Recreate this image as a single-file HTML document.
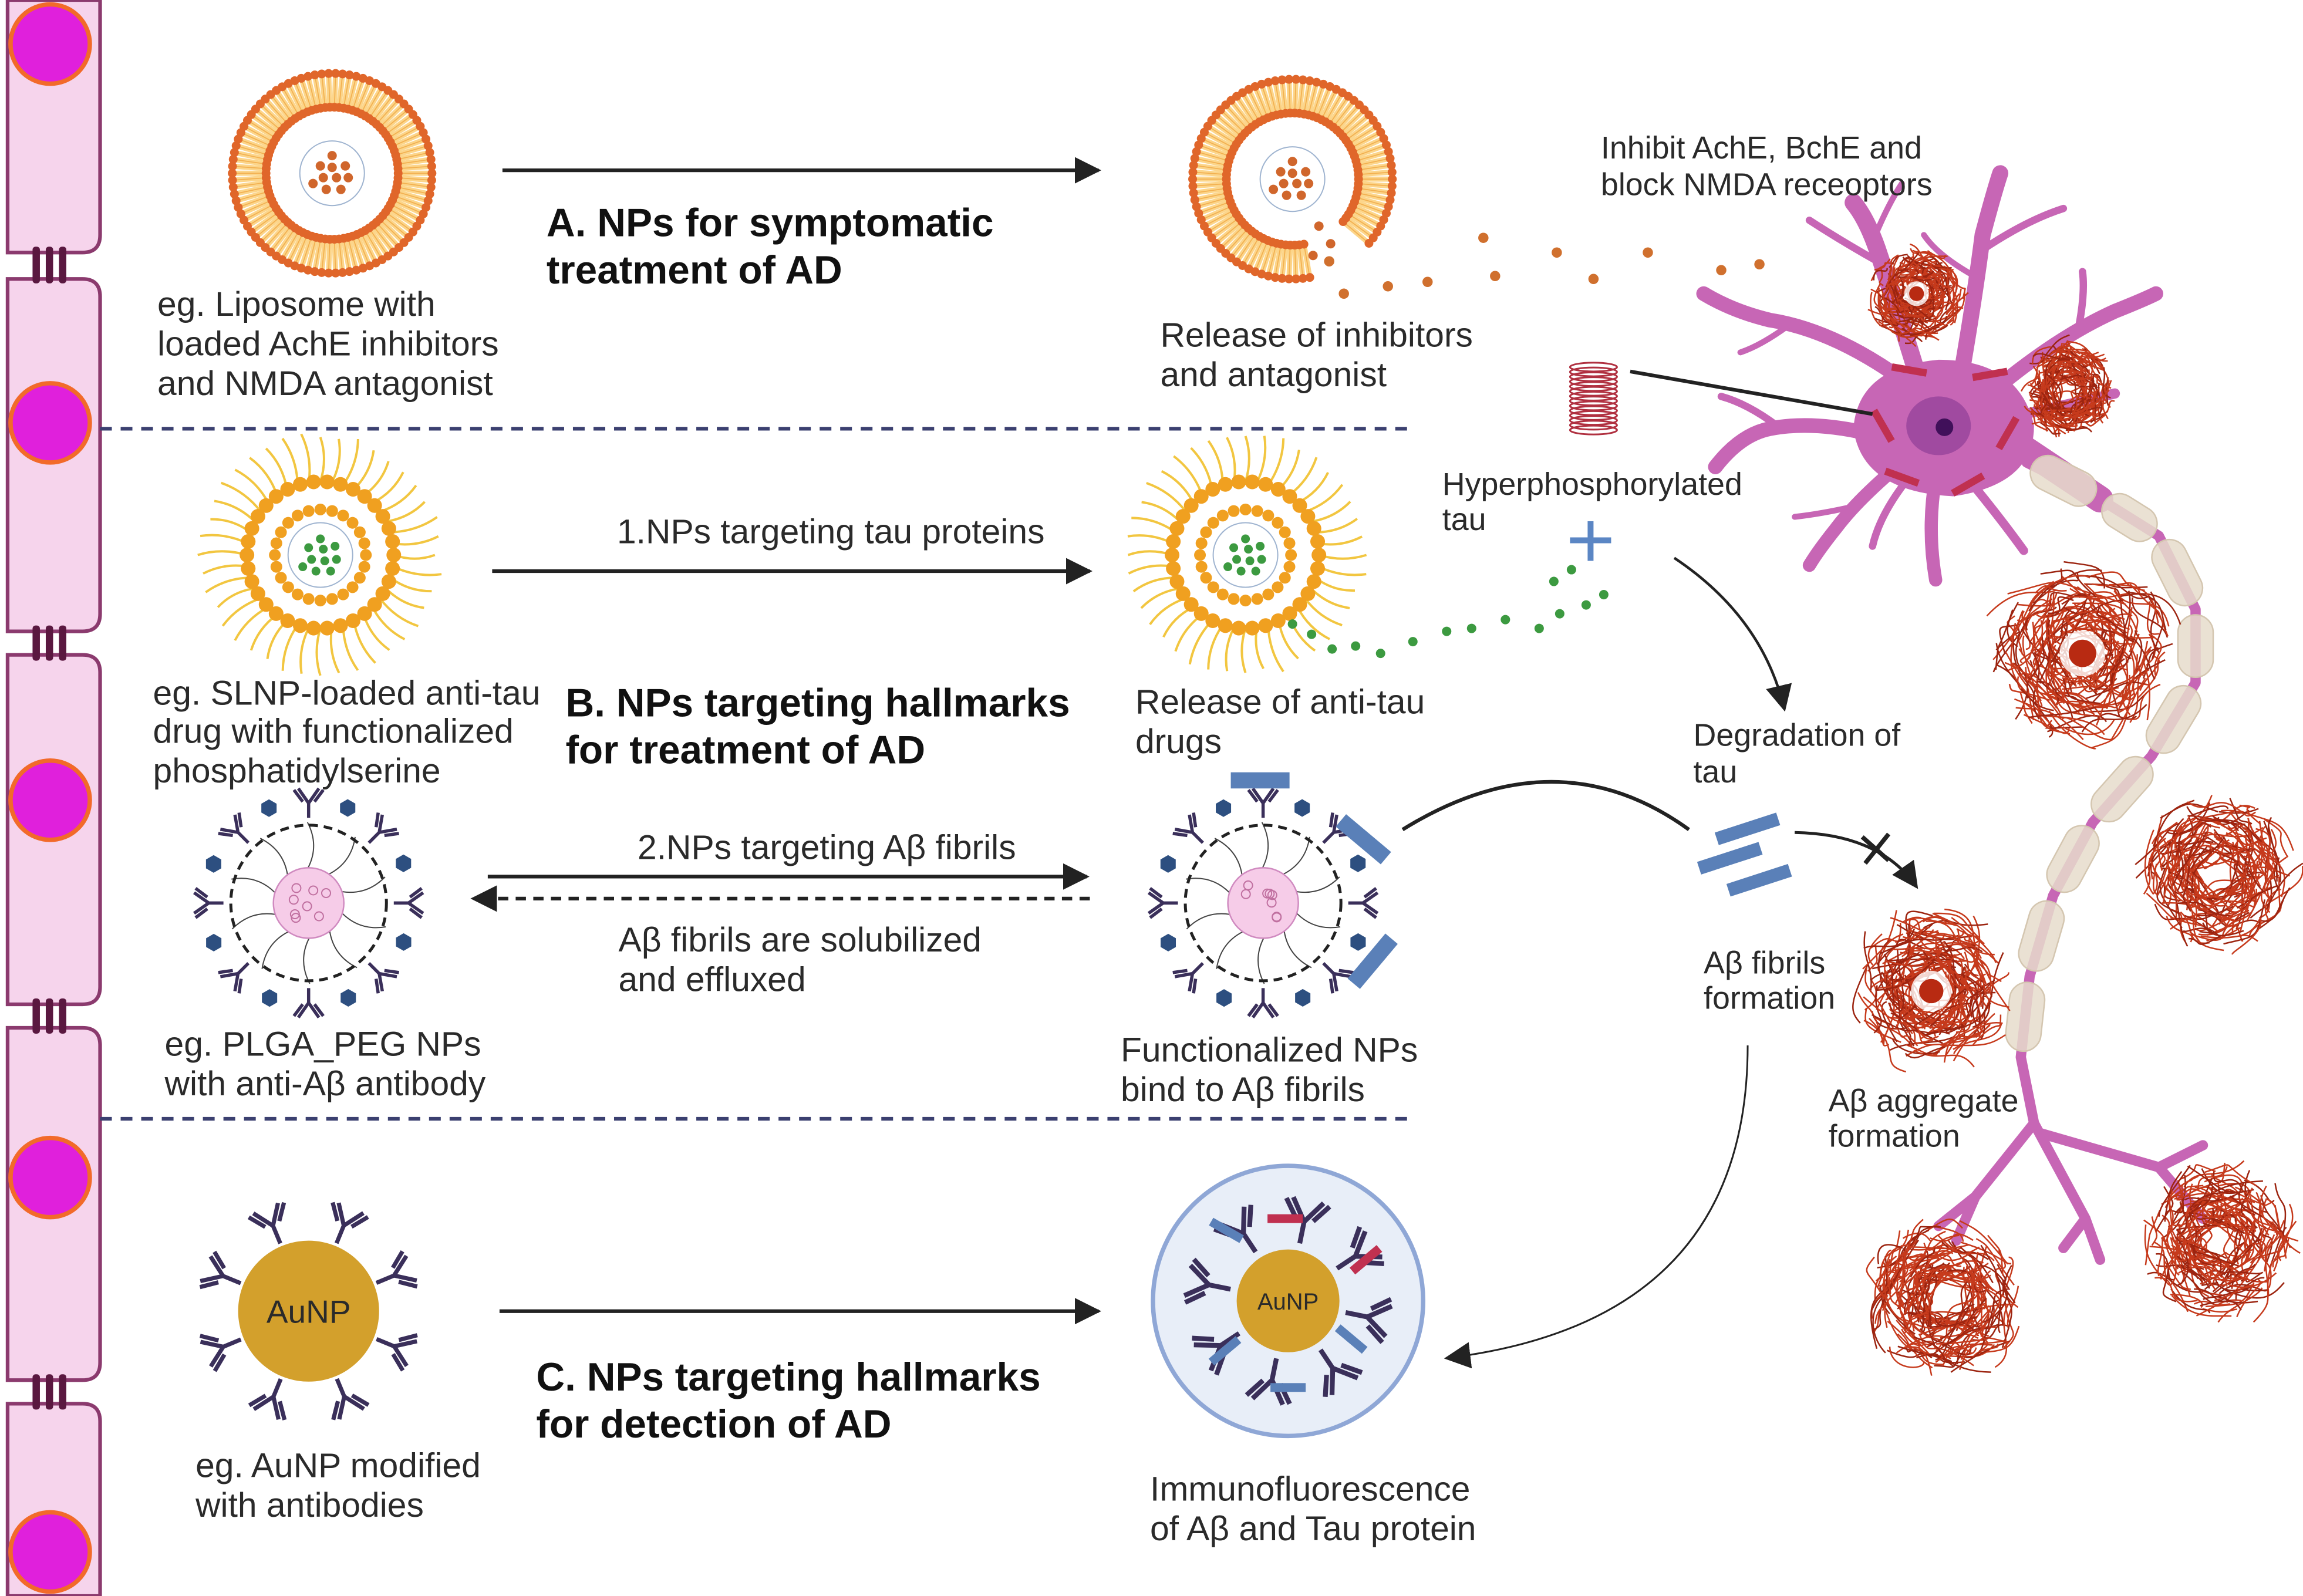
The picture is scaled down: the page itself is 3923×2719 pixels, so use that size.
<!DOCTYPE html>
<html><head><meta charset="utf-8"><style>
html,body{margin:0;padding:0;background:#fff;}
svg{display:block;}
text{font-family:"Liberation Sans",sans-serif;fill:#2a2a2a;}
.t{font-size:23.5px;}
.s{font-size:21.5px;}
.b{font-size:27px;font-weight:bold;fill:#111;}
</style></head><body>
<svg id="s" xmlns="http://www.w3.org/2000/svg" width="3923" height="2719" viewBox="0 0 1568 1087">
<defs>
<marker id="ah2" viewBox="0 0 10 10" refX="9" refY="5" markerWidth="18" markerHeight="18" orient="auto" markerUnits="userSpaceOnUse"><path d="M0,0L10,5L0,10z" fill="#222"/></marker>
</defs>
<rect width="1568" height="1087" fill="#fff"/>
<g stroke="#8b3a6e" stroke-width="2.5" fill="#f6d4ec">
<path d="M5,0 H68 V160 Q68,172 56,172 H5 Z"/>
<path d="M5,190 H56 Q68,190 68,202 V418 Q68,430 56,430 H5 Z"/>
<path d="M5,446 H56 Q68,446 68,458 V672 Q68,684 56,684 H5 Z"/>
<path d="M5,700 H56 Q68,700 68,712 V928 Q68,940 56,940 H5 Z"/>
<path d="M5,956 H56 Q68,956 68,968 V1087 H5 Z"/>
</g>
<g fill="#5a1840">
<rect x="22" y="168" width="5" height="25" rx="2"/><rect x="31" y="168" width="5" height="25" rx="2"/><rect x="40" y="168" width="5" height="25" rx="2"/>
<rect x="22" y="426" width="5" height="24" rx="2"/><rect x="31" y="426" width="5" height="24" rx="2"/><rect x="40" y="426" width="5" height="24" rx="2"/>
<rect x="22" y="680" width="5" height="24" rx="2"/><rect x="31" y="680" width="5" height="24" rx="2"/><rect x="40" y="680" width="5" height="24" rx="2"/>
<rect x="22" y="936" width="5" height="24" rx="2"/><rect x="31" y="936" width="5" height="24" rx="2"/><rect x="40" y="936" width="5" height="24" rx="2"/>
</g>
<g fill="#e020dc" stroke="#f26a2a" stroke-width="3">
<circle cx="34" cy="30" r="27"/><circle cx="34" cy="288" r="27"/><circle cx="34" cy="545" r="27"/><circle cx="34" cy="802" r="27"/><circle cx="34" cy="1057" r="27"/>
</g>
<g stroke="#3b4070" stroke-width="2.5" stroke-dasharray="8,6">
<line x1="68" y1="292" x2="958" y2="292"/><line x1="68" y1="762" x2="958" y2="762"/>
</g>
<g id="gen"></g>
<g stroke="#222" stroke-width="2.5" fill="none">
<line x1="342" y1="116" x2="748" y2="116" marker-end="url(#ah2)"/>
<line x1="335" y1="389" x2="742" y2="389" marker-end="url(#ah2)"/>
<line x1="332" y1="597" x2="740" y2="597" marker-end="url(#ah2)"/>
<line x1="742" y1="612" x2="322" y2="612" stroke-dasharray="7,5" marker-end="url(#ah2)"/>
<line x1="340" y1="893" x2="748" y2="893" marker-end="url(#ah2)"/>
<path d="M1140,380 Q1200,420 1215,483" stroke-width="1.8" marker-end="url(#ah2)"/>
<path d="M955,565 Q1060,500 1150,565" stroke-width="2.5"/>
<path d="M1222,567 Q1280,568 1305,604" stroke-width="2" marker-end="url(#ah2)"/>
<path d="M1268,570 L1286,586 M1286,568 L1270,588" stroke-width="3"/>
<path d="M1190,712 Q1190,900 985,925" stroke-width="1.2" marker-end="url(#ah2)"/>
</g>
<path d="M1083,355 V382 M1069,368 H1097" stroke="#5b86c4" stroke-width="4"/>
<text class="b" x="372" y="161">A. NPs for symptomatic</text>
<text class="b" x="372" y="193">treatment of AD</text>
<text class="t" x="107" y="215">eg. Liposome with</text>
<text class="t" x="107" y="242">loaded AchE inhibitors</text>
<text class="t" x="107" y="269">and NMDA antagonist</text>
<text class="t" x="790" y="236">Release of inhibitors</text>
<text class="t" x="790" y="263">and antagonist</text>
<text class="s" x="1090" y="108">Inhibit AchE, BchE and</text>
<text class="s" x="1090" y="133">block NMDA receoptors</text>
<text class="s" x="982" y="337">Hyperphosphorylated</text>
<text class="s" x="982" y="361">tau</text>
<text class="t" x="420" y="370">1.NPs targeting tau proteins</text>
<text class="t" x="104" y="480">eg. SLNP-loaded anti-tau</text>
<text class="t" x="104" y="506">drug with functionalized</text>
<text class="t" x="104" y="533">phosphatidylserine</text>
<text class="b" x="385" y="488">B. NPs targeting hallmarks</text>
<text class="b" x="385" y="520">for treatment of AD</text>
<text class="t" x="773" y="486">Release of anti-tau</text>
<text class="t" x="773" y="513">drugs</text>
<text class="s" x="1153" y="508">Degradation of</text>
<text class="s" x="1153" y="533">tau</text>
<text class="t" x="434" y="585">2.NPs targeting Aβ fibrils</text>
<text class="t" x="421" y="648">Aβ fibrils are solubilized</text>
<text class="t" x="421" y="675">and effluxed</text>
<text class="t" x="112" y="719">eg. PLGA_PEG NPs</text>
<text class="t" x="112" y="746">with anti-Aβ antibody</text>
<text class="t" x="763" y="723">Functionalized NPs</text>
<text class="t" x="763" y="750">bind to Aβ fibrils</text>
<text class="s" x="1160" y="663">Aβ fibrils</text>
<text class="s" x="1160" y="687">formation</text>
<text class="s" x="1245" y="757">Aβ aggregate</text>
<text class="s" x="1245" y="781">formation</text>
<text class="b" x="365" y="947">C. NPs targeting hallmarks</text>
<text class="b" x="365" y="979">for detection of AD</text>
<text class="t" x="133" y="1006">eg. AuNP modified</text>
<text class="t" x="133" y="1033">with antibodies</text>
<text class="t" x="783" y="1022">Immunofluorescence</text>
<text class="t" x="783" y="1049">of Aβ and Tau protein</text>
</svg>
<script>
var NS="http://www.w3.org/2000/svg",G=document.getElementById("gen");
function el(t,a,p){var e=document.createElementNS(NS,t);for(var k in a)e.setAttribute(k,a[k]);(p||G).appendChild(e);return e;}
var seed=7;function rnd(){seed=(seed*16807)%2147483647;return seed/2147483647;}
function liposome(cx,cy,gap){
 var g=el("g",{});
 for(var i=0;i<90;i++){var a=i/90*Math.PI*2;if(gap&&a>0.75&&a<1.35)continue;
  el("line",{x1:cx+46*Math.cos(a),y1:cy+46*Math.sin(a),x2:cx+68*Math.cos(a),y2:cy+68*Math.sin(a),stroke:"#fcd58a","stroke-width":3.5},g);}
 for(var i=0;i<90;i++){var a=i/90*Math.PI*2;if(gap&&a>0.75&&a<1.35)continue;
  el("line",{x1:cx+48*Math.cos(a),y1:cy+48*Math.sin(a),x2:cx+66*Math.cos(a),y2:cy+66*Math.sin(a),stroke:"#f2b050","stroke-width":0.7},g);
  el("circle",{cx:cx+68*Math.cos(a),cy:cy+68*Math.sin(a),r:3,fill:"#e0662a"},g);
  el("circle",{cx:cx+45*Math.cos(a),cy:cy+45*Math.sin(a),r:3,fill:"#e0662a"},g);}
 el("circle",{cx:cx,cy:cy,r:22,fill:"#fff",stroke:"#9fb4d0","stroke-width":0.8},g);
 [[0,-12],[-8,-5],[0,-4],[9,-5],[-6,3],[3,3],[11,3],[-13,7],[-4,11],[6,11]].forEach(function(p){el("circle",{cx:cx+p[0],cy:cy+p[1],r:3.2,fill:"#d0662c"},g);});
 if(gap)[[cx+18,cy+32],[cx+26,cy+44],[cx+14,cy+52]].forEach(function(p){el("circle",{cx:p[0],cy:p[1],r:3.2,fill:"#d0662c"},g);});
}
liposome(226,118,false);liposome(880,122,true);
[[905,178],[915,200],[945,195],[972,192],[1010,162],[1018,188],[1060,172],[1085,190],[1122,172],[1172,184],[1198,180]].forEach(function(p){el("circle",{cx:p[0],cy:p[1],r:3.5,fill:"#d0702e"});});
function slnp(cx,cy){
 var g=el("g",{});
 for(var i=0;i<40;i++){var a=i/40*Math.PI*2,r1=50,r2=78+rnd()*6;
  var x1=cx+r1*Math.cos(a),y1=cy+r1*Math.sin(a),x2=cx+r2*Math.cos(a),y2=cy+r2*Math.sin(a);
  var mx=(x1+x2)/2+5*Math.cos(a+1.5),my=(y1+y2)/2+5*Math.sin(a+1.5);
  el("path",{d:"M"+x1+","+y1+" Q"+mx+","+my+" "+x2+","+y2,stroke:"#f2c640",fill:"none","stroke-width":1.6},g);}
 for(var i=0;i<34;i++){var a=i/34*Math.PI*2;el("circle",{cx:cx+50*Math.cos(a),cy:cy+50*Math.sin(a),r:5,fill:"#f0a020"},g);}
 for(var i=0;i<24;i++){var a=i/24*Math.PI*2;el("circle",{cx:cx+31*Math.cos(a),cy:cy+31*Math.sin(a),r:4,fill:"#f0a020"},g);}
 el("circle",{cx:cx,cy:cy,r:22,fill:"#fff",stroke:"#9fb4d0","stroke-width":0.8},g);
 [[0,-11],[-8,-5],[2,-4],[10,-6],[-6,3],[3,4],[11,3],[-12,8],[-3,11],[7,11]].forEach(function(p){el("circle",{cx:cx+p[0],cy:cy+p[1],r:3,fill:"#3c9a40"},g);});
}
slnp(218,378);slnp(848,378);
[[880,425],[893,432],[907,442],[923,440],[940,445],[962,437],[985,430],[1002,428],[1025,422],[1048,428],[1062,418],[1080,412],[1092,405],[1058,396],[1070,388]].forEach(function(p){el("circle",{cx:p[0],cy:p[1],r:3.2,fill:"#3c9a40"});});
function antibody(x,y,a,g,s){s=s||1;var gg=el("g",{transform:"translate("+x+","+y+") rotate("+a+") scale("+s+")"},g);
 el("path",{d:"M0,0 V10 M0,10 L-7,20 M0,10 L7,20 M-4,11 L-10,19 M4,11 L10,19",stroke:"#3a2f5a","stroke-width":2.2,fill:"none"},gg);}
function hex(x,y,r){var p=[];for(var i=0;i<6;i++){var a=i*Math.PI/3+Math.PI/6;p.push((x+r*Math.cos(a)).toFixed(1)+","+(y+r*Math.sin(a)).toFixed(1));}return p.join(" ");}
function plga(cx,cy,fib){
 var g=el("g",{});
 for(var i=0;i<10;i++){var a=i/10*Math.PI*2+0.3;
  el("path",{d:"M"+(cx+24*Math.cos(a))+","+(cy+24*Math.sin(a))+" Q"+(cx+40*Math.cos(a+0.2))+","+(cy+40*Math.sin(a+0.2))+" "+(cx+55*Math.cos(a))+","+(cy+55*Math.sin(a)),stroke:"#444",fill:"none","stroke-width":0.8},g);}
 el("circle",{cx:cx,cy:cy,r:53,fill:"none",stroke:"#222","stroke-width":2,"stroke-dasharray":"6,4"},g);
 el("circle",{cx:cx,cy:cy,r:24,fill:"#f6cce8",stroke:"#d08ac0"},g);
 for(var i=0;i<8;i++)el("circle",{cx:cx-12+rnd()*24,cy:cy-12+rnd()*24,r:3,fill:"none",stroke:"#c070a0","stroke-width":0.8},g);
 for(var i=0;i<8;i++){var a=i/8*Math.PI*2;antibody(cx+58*Math.cos(a),cy+58*Math.sin(a),a*180/Math.PI-90,g);
  var b=a+0.39;el("polygon",{points:hex(cx+70*Math.cos(b),cy+70*Math.sin(b),6),fill:"#2d4f80"},g);}
 if(fib){[[858,532,0],[928,572,40],[935,655,-50]].forEach(function(f){el("rect",{x:f[0]-20,y:f[1]-6,width:40,height:11,fill:"#5a80b8",transform:"rotate("+f[2]+" "+f[0]+" "+f[1]+")"},g);});}
}
plga(210,615,false);plga(860,615,true);
[[1190,565],[1178,585],[1198,600]].forEach(function(f){el("rect",{x:f[0]-22,y:f[1]-5,width:44,height:9,fill:"#5a80b8",transform:"rotate(-18 "+f[0]+" "+f[1]+")"});});
el("circle",{cx:210,cy:893,r:48,fill:"#d3a02c"});
for(var i=0;i<8;i++){var a=i/8*Math.PI*2+0.39;antibody(210+50*Math.cos(a),893+50*Math.sin(a),a*180/Math.PI-90,G,1.3);}
var t=el("text",{x:210,y:901,"text-anchor":"middle",style:"font-size:22px"});t.textContent="AuNP";
el("circle",{cx:877,cy:886,r:92,fill:"#e8eef8",stroke:"#8fa7d6","stroke-width":3});
el("circle",{cx:877,cy:886,r:35,fill:"#d3a02c"});
for(var i=0;i<8;i++){var a=i/8*Math.PI*2+0.2;antibody(877+40*Math.cos(a),886+40*Math.sin(a),a*180/Math.PI-90,G,1.5);}
[[875,830,0,"#c03050"],[930,858,-40,"#c03050"],[835,838,30,"#5a80b8"],[920,912,40,"#5a80b8"],[834,920,-40,"#5a80b8"],[877,945,0,"#5a80b8"]].forEach(function(f){el("rect",{x:f[0]-12,y:f[1]-3,width:24,height:6,fill:f[3],transform:"rotate("+f[2]+" "+f[0]+" "+f[1]+")"});});
t=el("text",{x:877,y:892,"text-anchor":"middle",style:"font-size:16px"});t.textContent="AuNP";
for(var i=0;i<14;i++)el("ellipse",{cx:1085,cy:250+i*3.3,rx:16,ry:3,fill:"none",stroke:"#b03040","stroke-width":1.2});
// neuron
var C="#c766b5";
var N=el("g",{fill:"none",stroke:C,"stroke-linecap":"round","stroke-linejoin":"round"});
var dend=[
["M1310,270 Q1295,220 1280,175 Q1272,150 1262,138",12],["M1282,180 Q1255,165 1232,150",5],["M1275,165 Q1285,140 1295,125",4],
["M1300,262 Q1250,225 1205,218 Q1180,212 1160,200",10],["M1220,220 Q1200,235 1185,240",4],
["M1335,258 Q1345,200 1350,160 Q1358,130 1362,118",11],["M1350,170 Q1380,150 1405,142",5],["M1348,190 Q1320,175 1310,160",4],
["M1355,268 Q1400,230 1440,212 Q1460,204 1468,200",10],["M1415,225 Q1420,200 1418,185",5],
["M1365,285 Q1410,275 1440,268",7],
["M1290,300 Q1240,285 1205,292 Q1185,296 1168,318",10],["M1210,290 Q1190,275 1172,270",5],
["M1295,315 Q1265,340 1250,360 Q1238,375 1232,385",9],["M1262,345 Q1240,350 1222,352",4],
["M1318,325 Q1312,360 1318,395",9],["M1335,320 Q1360,350 1378,375",6],["M1300,325 Q1280,350 1275,372",5]];
dend.forEach(function(d){el("path",{d:d[0],"stroke-width":d[1]},N);});
el("path",{d:"M1262,292 Q1265,250 1320,245 Q1375,245 1385,290 Q1385,330 1330,338 Q1268,335 1262,292Z",fill:C,stroke:"none"});
var P=[[1380,315],[1430,340],[1470,365],[1495,415],[1495,465],[1465,515],[1425,560],[1398,610],[1382,665],[1376,720],[1385,765]];
var ax="M"+P.map(function(p){return p.join(",")}).join(" L");
el("path",{d:"M1370,300 Q1400,320 1430,340",stroke:C,"stroke-width":18,fill:"none","stroke-linecap":"round"});
el("path",{d:ax,stroke:C,"stroke-width":7,fill:"none","stroke-linejoin":"round","stroke-linecap":"round"});
el("path",{d:"M1385,765 L1420,830 M1385,765 L1345,815 L1320,835 M1345,815 L1332,845 M1390,772 L1470,795 L1500,830 M1470,795 L1500,780 M1420,830 L1430,858 M1420,830 L1405,850",stroke:C,"stroke-width":7,fill:"none","stroke-linecap":"round"});
el("ellipse",{cx:1320,cy:290,rx:22,ry:20,fill:"#a04aa0"});el("circle",{cx:1324,cy:291,r:6,fill:"#40105a"});
[[1282,290,60],[1300,252,10],[1355,255,-10],[1367,295,-60],[1340,330,-30],[1295,325,20]].forEach(function(f){el("rect",{x:f[0]-12,y:f[1]-2.5,width:24,height:5,fill:"#c03050",transform:"rotate("+f[2]+" "+f[0]+" "+f[1]+")"});});
for(var i=1;i<P.length-1;i++){var a=P[i-1],b=P[i];var mx=(a[0]+b[0])/2,my=(a[1]+b[1])/2,ang=Math.atan2(b[1]-a[1],b[0]-a[0])*180/Math.PI,L=Math.hypot(b[0]-a[0],b[1]-a[1])*0.85;
 el("rect",{x:mx-L/2,y:my-12,width:L,height:24,rx:12,fill:"#e6dccb","fill-opacity":0.85,stroke:"#d4c6b0",transform:"rotate("+ang+" "+mx+" "+my+")"});}
function agg(cx,cy,r,core){var g=el("g",{});
 for(var i=0;i<230;i++){var a=rnd()*6.28,rr=r*(0.25+rnd()*0.8);var x=cx+rr*Math.cos(a),y=cy+rr*Math.sin(a);
  var b=a+1.57+(rnd()-0.5)*1.2,L=r*(0.2+rnd()*0.3);
  el("path",{d:"M"+(x-L*Math.cos(b))+","+(y-L*Math.sin(b))+" C"+(x+(rnd()-0.5)*r*0.6)+","+(y+(rnd()-0.5)*r*0.6)+" "+(x+(rnd()-0.5)*r*0.6)+","+(y+(rnd()-0.5)*r*0.6)+" "+(x+L*Math.cos(b))+","+(y+L*Math.sin(b)),stroke:i%3?"#c63a1c":"#9c2410",fill:"none","stroke-width":1},g);}
 if(core){el("circle",{cx:cx,cy:cy,r:r*0.3,fill:"#fff",opacity:0.8},g);el("circle",{cx:cx,cy:cy,r:r*0.18,fill:"#b82a12"},g);}
}
agg(1315,675,46,true);agg(1418,445,52,true);agg(1510,595,45,false);agg(1408,265,28,false);agg(1305,200,28,true);agg(1325,885,46,false);agg(1510,845,45,false);
// tau pointer line on top
el("line",{x1:1110,y1:253,x2:1275,y2:282,stroke:"#222","stroke-width":2.5});
</script>
</body></html>
